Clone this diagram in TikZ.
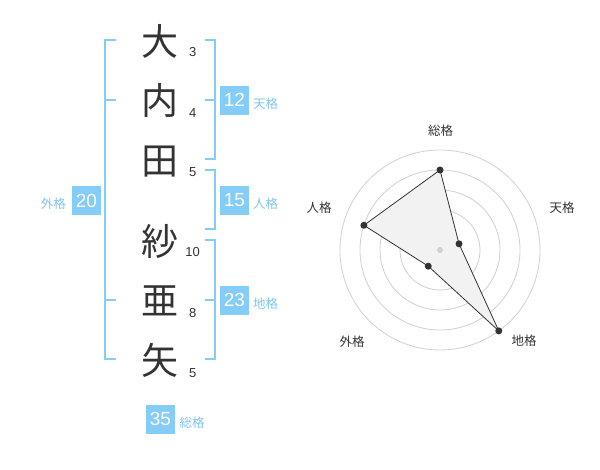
\documentclass[tikz,border=0pt]{standalone}
\usepackage{fontspec}
\usetikzlibrary{calc}
\setmainfont{Liberation Sans}
\newfontfamily\jp{Noto Sans CJK JP}
\definecolor{ink}{HTML}{333333}
\definecolor{bl}{HTML}{85CDF9}
\definecolor{bltxt}{HTML}{7FC6F3}
\definecolor{ring}{HTML}{D0D0D0}
\definecolor{area}{HTML}{F2F2F2}
\tikzset{
  kanji/.style={inner sep=0pt, anchor=center, text=ink, font=\jp\fontsize{37}{37}\selectfont},
  strokes/.style={inner sep=0pt, anchor=center, text=ink, font=\fontsize{13}{13}\selectfont},
  brk/.style={draw=bl, line width=2pt},
  numbox/.style={fill=bl, text=white, minimum width=29pt, minimum height=29pt, inner sep=0pt, font=\fontsize{19}{19}\selectfont},
  kaku/.style={inner sep=0pt, anchor=center, text=bltxt, font=\jp\fontsize{12.5}{12.5}\selectfont},
  axislbl/.style={inner sep=0pt, anchor=center, text=ink, font=\jp\fontsize{12.5}{12.5}\selectfont},
  dot/.style={circle, fill=ink, inner sep=0pt, minimum size=7pt},
}
\begin{document}
\begin{tikzpicture}[x=1pt, y=-1pt]
\useasboundingbox[fill=white] (0,0) rectangle (600,470);
% characters
\node[kanji] (c1) at (160,41.7) {大};
\node[kanji] (c2) at (160,100.5) {内};
\node[kanji] (c3) at (160,161.5) {田};
\node[kanji] (c4) at (160,241.5) {紗};
\node[kanji] (c5) at (160,300.5) {亜};
\node[kanji] (c6) at (160,360.5) {矢};
% stroke counts
\node[strokes] (s1) at (192.7,52.3) {3};
\node[strokes] (s2) at (192.7,113) {4};
\node[strokes] (s3) at (192.7,172.3) {5};
\node[strokes] (s4) at (192.7,252.3) {10};
\node[strokes] (s5) at (192.7,313) {8};
\node[strokes] (s6) at (192.7,373) {5};
% brackets
\coordinate (L1) at (116,40);
\coordinate (L2) at (116,100);
\coordinate (L3) at (116,300);
\coordinate (L4) at (116,359.5);
\draw[brk] (L1) -| (105,359.5) -- (L4);
\draw[brk] (105,100) -- (L2);
\draw[brk] (105,300) -- (L3);
\coordinate (T1) at (205,40);
\coordinate (T2) at (205,100);
\coordinate (T3) at (205,159.5);
\draw[brk] (T1) -| (214.5,159.5) -- (T3);
\draw[brk] (214.5,100) -- (T2);
\coordinate (J1) at (205,170);
\coordinate (J2) at (205,229.5);
\draw[brk] (J1) -| (214.5,229.5) -- (J2);
\coordinate (C1) at (205,240);
\coordinate (C2) at (205,300);
\coordinate (C3) at (205,359.5);
\draw[brk] (C1) -| (214.5,359.5) -- (C3);
\draw[brk] (214.5,300) -- (C2);
% boxes
\node[numbox] (ten) at (234.5,100.3) {12};
\node[numbox] (jin) at (234.5,200.3) {15};
\node[numbox] (chi) at (234.5,300.3) {23};
\node[numbox] (gai) at (86.5,200.5) {20};
\node[numbox] (sou) at (160.5,419.3) {35};
\node[kaku] (tenl) at (265.7,104) {天格};
\node[kaku] (jinl) at (265.7,203.5) {人格};
\node[kaku] (chil) at (265.7,304) {地格};
\node[kaku] (gail) at (53.3,204) {外格};
\node[kaku] (soul) at (192,422.3) {総格};
% radar
\coordinate (O) at (440,250);
\foreach \r in {20,40,60,80,100}
  \draw[ring, line width=0.8pt] (O) circle[radius=\r pt];
\coordinate (pS) at ($(O)+(-90:80)$);
\coordinate (pT) at ($(O)+(-18:20)$);
\coordinate (pC) at ($(O)+(54:100)$);
\coordinate (pG) at ($(O)+(126:20)$);
\coordinate (pJ) at ($(O)+(-162:80)$);
\filldraw[fill=area, draw=ink, line width=0.8pt] (pS) -- (pT) -- (pC) -- (pG) -- (pJ) -- cycle;
\node[circle, fill=ring, inner sep=0pt, minimum size=6pt] (ctr) at (O) {};
\foreach \p in {pS,pT,pC,pG,pJ}
  \node[dot] at (\p) {};
\node[axislbl] (aS) at (440.7,130.7) {総格};
\node[axislbl] (aT) at (562,208) {天格};
\node[axislbl] (aC) at (524,341) {地格};
\node[axislbl] (aG) at (352,342) {外格};
\node[axislbl] (aJ) at (319,208) {人格};
\end{tikzpicture}
\end{document}
